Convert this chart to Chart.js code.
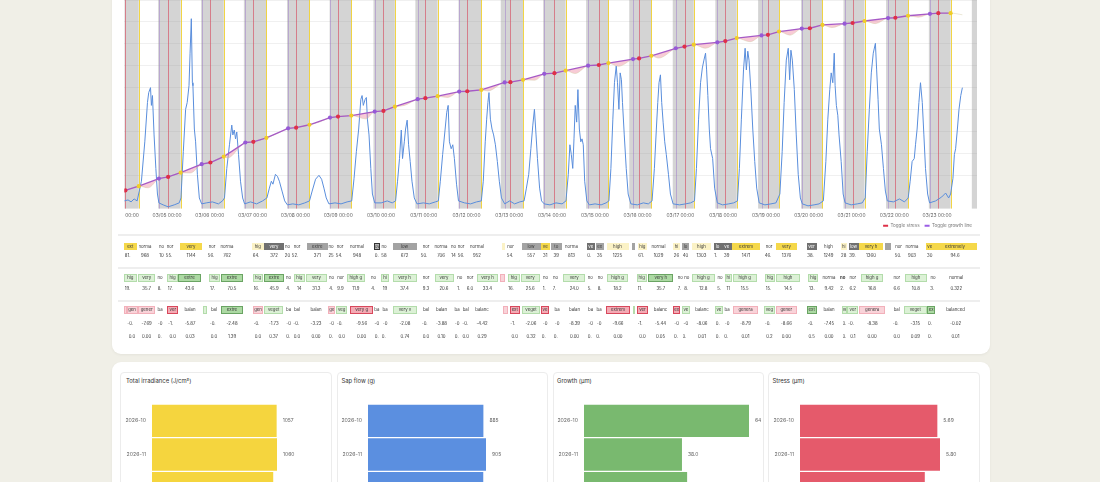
<!DOCTYPE html>
<html>
<head>
<meta charset="utf-8">
<script src="https://cdn.jsdelivr.net/npm/chart.js@4.4.1/dist/chart.umd.min.js"></script>
<style>
html, body { margin: 0; padding: 0; width: 1100px; height: 482px; overflow: hidden; background: #f0efe7; font-family: Inter, "Noto Sans", sans-serif; }
.card { position: absolute; left: 112px; width: 878px; background: #fff; border-radius: 9px; box-shadow: 0 1px 3px rgba(0,0,0,0.05); }
#card1 { top: -40px; height: 394px; }
#card2 { top: 362px; height: 200px; }
#mainWrap { position: absolute; left: 124px; top: -4px; width: 866px; height: 242px; overflow: hidden; }
#main { position: absolute; left: -20px; top: 0; }
.sep { position: absolute; left: 118px; width: 862px; height: 2px; background: #eeeeee; }
#tables { position: absolute; left: 0; top: 0; width: 1100px; height: 360px; will-change: transform; }
.cell { position: absolute; font-size: 4.3px; text-align: center; overflow: hidden; white-space: nowrap; color: #3a3a3a; box-sizing: border-box; }
.num { position: absolute; font-size: 4.3px; height: 6px; line-height: 6px; white-space: nowrap; overflow: hidden; color: #333; }
.sY { background: #f5d84a; }
.sy { background: #fbf2c6; }
.sD { background: #707070; color: #fff; }
.sG { background: #a3a3a3; }
.sO { background: #b5b5b5; border: 1px solid #333; }
.sg { background: #dcf1d6; border: 1px solid #b3dcab; }
.sM { background: #acd9a3; border: 1px solid #6aa463; }
.sp { background: #f9d3d9; border: 1px solid #f2b0ba; }
.sP { background: #f4aab4; border: 1px solid #d8485c; }
.sB { font-weight: bold; }
.panel { position: absolute; top: 372px; height: 150px; border: 1px solid #ececec; border-radius: 4px; box-sizing: border-box; }
.ptitle { position: absolute; top: 376.5px; font-size: 5.9px; color: #333; }
canvas.bar { position: absolute; top: 395px; }
</style>
</head>
<body>
<div class="card" id="card1"></div>
<div class="card" id="card2"></div>
<div id="mainWrap"><canvas id="main" width="886" height="242"></canvas></div>
<div class="sep" style="top:233.5px"></div>
<div class="sep" style="top:266.5px"></div>
<div class="sep" style="top:299.5px"></div>
<div id="tables"></div>

<div class="panel" style="left:120px;width:212px"></div>
<div class="panel" style="left:336.5px;width:211px"></div>
<div class="panel" style="left:552.5px;width:211px"></div>
<div class="panel" style="left:768px;width:212px"></div>
<div class="ptitle" style="left:126px">Total irradiance (J/cm²)</div>
<div class="ptitle" style="left:341.5px">Sap flow (g)</div>
<div class="ptitle" style="left:557px">Growth (µm)</div>
<div class="ptitle" style="left:772.5px">Stress (µm)</div>
<canvas class="bar" id="barIrr" width="209" height="119" style="left:122px"></canvas>
<canvas class="bar" id="barSap" width="209" height="119" style="left:338px"></canvas>
<canvas class="bar" id="barGrowth" width="209" height="119" style="left:554px"></canvas>
<canvas class="bar" id="barStress" width="210" height="119" style="left:770px"></canvas>

<script>
// hours since 03/04 00:00
const nightStart = [0, 19.0, 43.1, 67.1, 91.3, 115.2, 139.8, 163.3, 187.5, 211.2, 235.0, 259.1, 283.3, 307.7, 331.6, 355.6, 379.7, 403.5, 427.4, 451.4, 475.5];
const nightEnd = [8.1, 31.6, 55.8, 79.7, 103.9, 127.4, 151.8, 175.8, 200.3, 223.7, 247.6, 271.6, 295.7, 319.5, 343.6, 367.3, 391.7, 415.3, 439.7, 463.6, 478.4];

// growth line points (R = max, Y = morning, P = evening)
const growthHours = [0.6, 8.1, 19.4, 24.6, 31.6, 43.4, 48.3, 55.8, 67.9, 72.4, 79.7, 91.9, 96.4, 103.9, 115.4, 119.9, 127.4,
  140.5, 145.4, 151.8, 164.6, 168.9, 175.8, 187.9, 192.4, 200.3, 213.4, 216.6, 223.7, 235.6, 241.3, 247.6, 260.2, 266.2, 271.6,
  285.4, 288.8, 295.7, 309.4, 314.3, 319.5, 332.7, 337.2, 343.6, 357.5, 361.1, 367.3, 380.1, 384.6, 391.7, 404.1, 408.6, 415.3,
  428.5, 432.6, 439.7, 452.0, 456.7, 463.6];
const growthValues = [6.0, 9.9, 16.8, 18.3, 22.2, 30.0, 31.5, 36.9, 49.8, 50.4, 54.0, 62.7, 63.3, 66.0, 72.6, 73.5, 74.4,
  78.0, 78.6, 82.5, 89.4, 90.3, 92.1, 96.3, 96.6, 97.8, 104.7, 104.9, 107.1, 112.5, 113.1, 115.5, 120.0, 120.6, 122.4,
  126.0, 126.6, 129.0, 135.9, 137.4, 139.2, 141.3, 142.5, 145.2, 147.6, 148.2, 151.2, 153.9, 154.2, 157.2, 158.4, 159.0, 160.8,
  163.5, 163.8, 165.6, 167.4, 168.0, 168.0];
const growthKinds = ('RY' + 'PRYPRYPRYPRYPRY' + 'PRYPRYPRYPRYPRY' + 'PRYPRYPRYPRYPRY' + 'PRYPRYPRYPRY').split('');

// daytime shrinkage of the raw dendrometer curve
const dipHours = [13.4, 36.9, 57.9, 85.5, 109.7, 135.5, 157.2, 181.4, 204.0, 230.3, 252.9, 277.3, 299.8, 326.1, 351.1, 373.5, 397.0, 421.3, 445.5, 470.2];
const dipValues = [8.4, 21.9, 35.6, 57.8, 68.6, 71.4, 83.7, 90.9, 96.9, 106.7, 112.8, 119.4, 126.9, 135.9, 141.9, 147.9, 154.8, 158.4, 164.3, 166.5];

// sap flow
const sapHours = [
  0, 2.1, 3.8, 5.5, 7.2,
  9.6, 11.5, 13.0, 13.7, 14.7, 15.2, 15.8, 16.7, 17.7, 18.6, 19.4, 21.8, 24.6, 28.0, 30.8,
  31.8, 33.1, 34.4, 35.3, 36.3, 36.9, 37.6, 38.2, 38.5, 39.3, 40.0, 41.0, 42.1, 43.4, 46.0, 49.4, 52.8, 55.1,
  56.2, 57.5, 59.0, 60.3, 60.9, 61.7, 62.4, 63.1, 64.1, 65.2, 66.4, 67.5, 70.8, 74.2, 77.6,
  80.0, 81.4, 82.5, 83.4, 84.8, 85.9, 87.0, 88.5, 90.0, 91.5, 94.5, 97.9, 101.3,
  103.9, 105.4, 107.3, 109.2, 110.7, 112.0, 113.3, 114.8, 118.2, 121.6, 125.0,
  127.6, 128.9, 130.2, 131.5, 132.7, 133.4, 134.1, 135.1, 135.8, 136.4, 137.3, 138.3, 139.2, 140.5, 144.1, 147.5, 150.3,
  152.2, 153.3, 154.4, 155.4, 156.1, 157.1, 157.8, 158.7, 159.5, 160.4, 161.4, 162.7, 164.2, 167.8, 171.1, 174.5,
  176.2, 177.3, 178.6, 180.0, 180.9, 181.7, 182.4, 183.4, 184.3, 185.2, 186.4, 187.5, 190.9, 194.3, 197.6,
  200.3, 201.4, 202.5, 203.3, 204.0, 204.6, 205.4, 206.3, 207.2, 208.2, 209.3, 210.4, 211.6, 213.4, 216.2, 219.0, 221.9,
  224.3, 225.6, 226.9, 228.1, 229.2, 230.1, 231.0, 231.8, 233.0, 234.1, 235.6, 238.8, 242.2, 245.6,
  247.8, 249.1, 250.0, 250.8, 251.6, 252.3, 253.0, 253.8, 254.5, 255.3, 256.1, 256.8, 257.5, 258.3, 259.5, 260.9, 264.1, 267.5, 270.3,
  271.9, 273.0, 274.1, 275.0, 276.0, 276.7, 277.5, 278.2, 278.9, 279.5, 280.5, 281.6, 282.7, 284.2, 287.8, 291.2, 294.0,
  296.1, 297.4, 298.5, 299.3, 300.0, 300.8, 301.5, 302.3, 303.2, 304.1, 305.3, 306.4, 307.9, 311.5, 314.9, 317.7,
  319.9, 321.0, 322.2, 323.3, 324.3, 325.2, 326.1, 326.7, 327.4, 328.2, 328.9, 330.1, 331.2, 332.7, 335.7, 339.1, 341.9,
  344.0, 345.1, 346.2, 347.4, 348.3, 349.0, 349.8, 350.5, 351.5, 352.6, 353.7, 354.8, 356.2, 359.4, 362.8, 365.6,
  367.8, 369.1, 370.2, 371.4, 372.5, 373.3, 374.0, 374.8, 375.9, 377.0, 378.1, 379.3, 380.4, 383.6, 387.0, 389.8,
  392.2, 393.6, 394.7, 395.8, 396.6, 397.5, 398.3, 398.8, 399.5, 400.3, 401.0, 402.2, 403.3, 404.4, 407.8, 411.2, 414.0,
  415.7, 416.8, 418.0, 419.1, 420.2, 421.4, 422.1, 422.9, 423.6, 424.8, 425.9, 427.0, 428.1, 431.5, 434.9, 437.7,
  439.8, 440.9, 442.0, 443.2, 443.9, 444.8, 445.8, 446.7, 447.7, 448.6, 449.5, 450.7, 451.8, 455.2, 458.6, 460.8, 462.5,
  463.6, 464.9, 465.7, 466.4, 467.4, 468.3, 469.3, 470.2];
const sapValues = [
  8, 9, 7, 10, 8,
  28, 68, 108, 118, 123, 105, 115, 75, 41, 15, 6, 4, 2, 4, 6,
  11, 58, 101, 108, 125, 158, 193, 128, 125, 81, 68, 35, 11, 5, 6, 7, 5, 8,
  11, 41, 65, 85, 75, 80, 71, 78, 55, 28, 11, 5, 7, 5, 8,
  11, 21, 28, 25, 35, 33, 28, 18, 8, 4, 5, 4, 6,
  8, 18, 30, 34, 30, 21, 11, 5, 6, 5, 7,
  8, 31, 58, 81, 111, 115, 105, 111, 113, 91, 75, 41, 15, 6, 6, 8, 6,
  8, 28, 51, 80, 51, 68, 81, 90, 65, 48, 28, 11, 5, 6, 5, 7,
  8, 28, 55, 81, 98, 105, 68, 61, 65, 51, 25, 8, 6, 5, 7,
  8, 28, 68, 91, 108, 118, 91, 81, 75, 65, 48, 28, 11, 5, 8, 5, 7,
  8, 21, 35, 61, 85, 101, 75, 51, 21, 8, 5, 4, 6, 5,
  8, 35, 65, 55, 41, 71, 105, 88, 121, 81, 68, 71, 65, 28, 8, 4, 5, 4, 6,
  8, 41, 91, 128, 145, 128, 101, 138, 131, 108, 75, 41, 15, 5, 4, 6, 5,
  8, 41, 81, 108, 128, 136, 108, 88, 68, 55, 35, 15, 5, 4, 5, 6,
  8, 41, 91, 128, 143, 151, 158, 141, 115, 81, 61, 51, 21, 6, 4, 5, 6,
  8, 41, 91, 141, 163, 141, 160, 151, 121, 81, 48, 21, 6, 4, 5, 6,
  15, 58, 108, 151, 163, 131, 161, 151, 121, 75, 35, 11, 5, 3, 4, 5,
  8, 48, 91, 121, 138, 128, 158, 125, 105, 95, 75, 48, 15, 6, 4, 5, 6,
  11, 58, 101, 138, 158, 168, 141, 111, 81, 65, 41, 18, 8, 7, 10, 7,
  11, 28, 48, 51, 65, 81, 108, 128, 108, 75, 41, 15, 6, 8, 12, 16, 11,
  15, 31, 55, 61, 81, 101, 115, 123];

// monthly totals
const months = ['2026-10', '2026-11', '2026-12'];
const irradianceText = ['1057', '1060', '1028'];
const sapFlowText = ['885', '905', '884'];
const growthText = ['64', '38.0', '40.0'];
const stressText = ['5.69', '5.80', '5.17'];

// summary tables: [left, width, label, style, value, value2]
const row1Cells = [
  [124,12.5,'ext','Y','81.'], [138.5,13,'norma','','968'], [158.5,6,'no','','10'], [165,10,'nor','','55.'], [180,22,'very','Y','1144'],
  [207,10,'nor','','56.'], [219,16,'norma','','762'], [252,11.5,'hig','y','64.'], [264,20,'very','D','372'], [284.5,6,'no','','20'],
  [291,12,'nor','','52.'], [306.5,21.5,'extre','G','371'], [328,6,'no','','25'], [335,10,'nor','','54.'], [348,18,'normal','','948'],
  [374,5.5,'ov','O','0.'], [380,8,'no','','58'], [392.5,24,'low','G','672'], [420,12,'nor','','50.'], [434,14,'norma','','706'],
  [450,7,'no','','14'], [457,8,'nor','','56.'], [468,18,'normal','','952'], [501.5,3.5,'','y',''], [506,9,'nor','','54.'],
  [521.5,19,'low','G','557'], [540.5,9.5,'ve','Y','31'], [551,10.5,'to','G','39'], [563,17,'norma','','813'], [586.5,8.5,'ve','D','0.'],
  [596,7.5,'ex','G','35'], [606.5,22,'high','y','1225'], [631.5,3.5,'','G',''], [637.5,9.5,'hig','y','61.'], [650,17,'normal','','1029'],
  [673,7,'hi','y','26'], [682,7,'lo','G','40'], [692,19,'high','y','1303'], [713.5,8,'lo','D','1.'], [722,9.5,'ve','D','39'],
  [732,28,'extrem','Y','1471'], [764,10,'nor','','46.'], [776,21,'very','Y','1376'], [806.5,10,'ver','D','38.'], [820,17,'high','','1249'],
  [840.5,6.5,'hi','y','28'], [848.5,10,'low','D','39.'], [859,24,'very h','Y','1360'], [885,6,'','G',''], [894,9,'nor','','50.'],
  [905,14,'norma','','903'], [926,7.5,'ve','Y','30'], [933.5,43,'extremely','Y','94.6']
];
const row2Cells = [
  [124,12.5,'hig','g','19.'], [138.3,16.7,'very','g','35.7'], [157,6,'no','','8.'], [167,11.3,'hig','g','17.'], [178.3,22.4,'extre','M','43.6'],
  [209.3,10.7,'hig','g','17.'], [220.7,22.6,'extre','M','70.5'], [252.7,10.6,'hig','g','16.'], [264,20,'extre','M','45.9'], [285.5,6,'no','','4.'],
  [293.5,11.5,'hig','g','14'], [306,20.7,'very','g','31.3'], [328.5,6,'no','','4.'], [336,9,'nor','','9.9'], [346.7,18.3,'high g','g','11.9'],
  [370.5,6,'no','','4.'], [381,8,'hi','g','19'], [392.5,24,'very h','g','37.4'], [421,10,'nor','','9.3'], [434.5,19,'very','g','20.6'],
  [456.5,6.5,'no','','1.'], [465,10,'nor','','6.0'], [476.7,21.6,'very h','g','33.4'], [499.5,5.5,'','p',''], [507.5,12.5,'hig','g','16.'],
  [520.5,19.5,'very','g','25.6'], [542,7,'no','','1.'], [552,7,'no','','7.'], [563.3,21.7,'very','g','24.0'], [587,6.5,'no','','5.'],
  [597,6.5,'no','','8.'], [606.7,21.6,'high g','g','18.2'], [636.7,10,'hig','g','11.'], [648.3,25,'very h','M','35.7'], [677,6.5,'no','','7.'],
  [683.5,6.5,'no','','8.'], [691.7,23.3,'high g','g','12.8'], [716.5,7,'no','','5.'], [725,6.7,'hi','g','11'], [732.7,24,'high g','g','15.5'],
  [765,10,'hig','g','15.'], [776,24,'high','g','14.5'], [808.3,10,'hig','g','13.'], [821,16,'norma','','9.42'], [839.5,6.5,'no','B','2.'],
  [847.5,10.5,'nor','','6.2'], [860.7,22.6,'high g','g','16.8'], [892,9.5,'nor','','6.6'], [905,21.7,'high','g','10.8'], [929.5,7,'no','','3.'],
  [936,40.5,'normal','','0.322']
];
const row3Cells = [
  [124,2.5,'','p','',''], [126.5,11,'gen','p','-0.','0.0'], [138.3,16.7,'gener','p','-7.69','0.00'], [157,6,'ba','','-0','0.'],
  [167.3,11,'ver','P','-1.','0.0'], [181,18,'balan','','-5.87','0.03'], [203.3,4,'','g','',''], [209,10,'bal','','-0.','0.0'],
  [220.7,22.6,'extre','M','-2.48','1.39'], [252.7,10.6,'gen','p','-0.','0.0'], [264,19.3,'veget','g','-1.73','0.37'], [285.5,6,'ba','','-0','0.'],
  [292.5,9,'bal','','-0.','0.0'], [307,18,'balan','','-3.23','0.00'], [328.3,6.7,'ge','p','-0','0.'], [336,11.3,'veg','g','-0.','0.0'],
  [350,23.3,'very g','P','-9.56','0.00'], [374,5.5,'ba','','-0','0.'], [381,8,'ba','','-0','0.'], [393.3,23.4,'very v','g','-2.08','0.74'],
  [421,10,'bal','','-0.','0.0'], [433,17,'balan','','-3.88','0.10'], [454,6,'ba','','-0','0.'], [461.5,8.5,'bal','','-0.','0.0'],
  [472,20,'balanc','','-4.42','0.29'], [503.3,5,'','p','',''], [509.5,10.5,'ext','P','-1.','0.0'], [522,18,'veget','g','-2.06','0.32'],
  [541,8,'ve','P','-0','0.'], [553,8,'ba','','-0','0.'], [566,17,'balan','','-8.39','0.00'], [587,7,'ba','','-0','0.'],
  [595.5,7,'ba','','-0','0.'], [606,24,'extrem','P','-9.66','0.00'], [632.7,2.8,'','g','',''], [636.7,11.6,'ver','P','-1.','0.0'],
  [652,17,'balanc','','-5.44','0.05'], [673.3,6.7,'ex','P','-0','0.'], [681.7,8.3,'ve','g','-0','0.'], [693,18,'balanc','','-8.06','0.01'],
  [715,7.7,'ve','g','0.','0.'], [723.5,7,'ba','','-0','0.'], [732.7,25.6,'genera','p','-8.79','0.01'], [764,11,'veg','g','-0.','0.2'],
  [776,20.7,'gener','p','-8.66','0.00'], [806.7,10,'ext','M','-0.','0.5'], [821,16,'balan','','-7.45','0.00'], [841.7,5.6,'ve','g','0.','0.'],
  [847.3,11,'ver','g','-0.','0.1'], [859.3,25.7,'genera','p','-8.38','0.00'], [892,9.5,'bal','','-0.','0.0'], [904,22.7,'veget','g','-3.15','0.09'],
  [927.3,7.7,'ex','M','0.','0.'], [938,35,'balanced','','-0.02','0.01']
];

function buildRow(cells, top, h, numTops) {
  const host = document.getElementById('tables');
  cells.forEach(c => {
    const d = document.createElement('div');
    d.className = 'cell' + (c[3] ? ' s' + c[3] : '');
    const bordered = c[3] && 'gMpPO'.includes(c[3]);
    d.style.cssText = 'left:' + c[0] + 'px;width:' + c[1] + 'px;top:' + top + 'px;height:' + h + 'px;line-height:' + (bordered ? h - 2 : h) + 'px';
    d.textContent = c[2];
    host.appendChild(d);
    numTops.forEach((t, k) => {
      const txt = c[4 + k];
      if (!txt) return;
      const n = document.createElement('div');
      n.className = 'num';
      const left = txt.endsWith('.');
      n.style.cssText = 'left:' + (c[0] + (left ? 0.8 : 0)) + 'px;width:' + c[1] + 'px;top:' + t + 'px;text-align:' + (left ? 'left' : 'center');
      n.textContent = txt;
      host.appendChild(n);
    });
  });
}
buildRow(row1Cells, 242.5, 7.5, [253]);
buildRow(row2Cells, 274, 8, [286]);
buildRow(row3Cells, 305.5, 8.5, [321, 334]);

Chart.defaults.font.family = 'Inter';

const kindColor = { R: 'rgb(222,48,72)', Y: 'rgb(240,205,40)', P: 'rgb(150,90,215)' };
const kindLine = { R: 'rgba(215,70,90,0.6)', Y: 'rgba(240,208,50,0.9)', P: 'rgba(150,110,200,0.45)' };

const growthPts = growthHours.map((h, i) => ({ x: h, y: growthValues[i] }));
const rawPts = growthPts.concat(dipHours.map((h, i) => ({ x: h, y: dipValues[i] }))).sort((a, b) => a.x - b.x);
const sapPts = sapHours.map((h, i) => ({ x: h, y: sapValues[i] }));

const nightPlugin = {
  id: 'nights',
  beforeDatasetsDraw(chart) {
    const { ctx, chartArea: a, scales: { x } } = chart;
    ctx.save();
    ctx.beginPath();
    ctx.rect(a.left, a.top, a.right - a.left, a.bottom - a.top);
    ctx.clip();
    ctx.fillStyle = 'rgba(128,128,128,0.34)';
    nightStart.forEach((s, i) => {
      const x0 = x.getPixelForValue(s);
      const x1 = x.getPixelForValue(nightEnd[i]);
      ctx.fillRect(x0, a.top, x1 - x0, a.bottom - a.top);
    });
    ctx.lineWidth = 1;
    growthHours.forEach((h, i) => {
      const px = Math.round(x.getPixelForValue(h)) + 0.5;
      ctx.strokeStyle = kindLine[growthKinds[i]];
      ctx.beginPath();
      ctx.moveTo(px, a.top);
      ctx.lineTo(px, a.bottom);
      ctx.stroke();
    });
    ctx.restore();
  }
};

new Chart(document.getElementById('main'), {
  type: 'line',
  data: {
    datasets: [
      {
        label: 'Toggle growth line',
        data: growthPts,
        yAxisID: 'y2',
        borderColor: '#a65ac6',
        borderWidth: 1.3,
        pointRadius: 2.1,
        pointBorderWidth: 0,
        pointBackgroundColor: growthKinds.map(k => kindColor[k]),
        order: 0
      },
      {
        label: 'Toggle stress',
        data: rawPts,
        yAxisID: 'y2',
        borderColor: 'rgba(205,195,150,0.55)',
        borderWidth: 0.7,
        pointRadius: 0,
        cubicInterpolationMode: 'monotone',
        fill: { target: 0, above: 'rgba(0,0,0,0)', below: 'rgba(240,140,165,0.45)' },
        order: 1
      },
      {
        label: 'Sap flow',
        data: sapPts,
        yAxisID: 'y',
        borderColor: '#5a8edc',
        borderWidth: 1,
        pointRadius: 0,
        order: 2
      }
    ]
  },
  options: {
    responsive: false,
    animation: false,
    events: [],
    layout: { padding: { left: 20.3, right: 13, top: 0, bottom: 0 } },
    scales: {
      x: {
        type: 'linear',
        min: 0,
        max: 478.4,
        grid: { display: false, drawTicks: false },
        border: { display: false },
        afterFit: a => { a.height = 9.6; },
        ticks: {
          stepSize: 24,
          autoSkip: false,
          maxRotation: 0,
          padding: 4,
          color: '#666',
          font: { size: 4.9 },
          callback: v => {
            if (v % 24 !== 0) return null;
            const d = 4 + v / 24;
            return '03/' + (d < 10 ? '0' + d : d) + ' 00:00';
          }
        }
      },
      y: { display: false, min: 0, max: 212 },
      y2: {
        position: 'left',
        min: -10.8,
        max: 180,
        border: { display: false },
        grid: { drawTicks: false, color: c => (c.tick && c.tick.value < 0 ? 'rgba(0,0,0,0)' : 'rgba(0,0,0,0.06)') },
        ticks: { display: false, stepSize: 20 }
      }
    },
    plugins: {
      tooltip: { enabled: false },
      legend: {
        position: 'bottom',
        align: 'end',
        labels: {
          boxWidth: 5,
          boxHeight: 2,
          padding: 5,
          color: '#777',
          font: { size: 4.6 },
          generateLabels: () => [
            { text: 'Toggle stress', fillStyle: 'rgb(222,48,72)', strokeStyle: 'rgb(222,48,72)', lineWidth: 0, datasetIndex: 1, fontColor: '#777' },
            { text: 'Toggle growth line', fillStyle: '#9b5de5', strokeStyle: '#9b5de5', lineWidth: 0, datasetIndex: 0, fontColor: '#777' }
          ]
        }
      }
    }
  },
  plugins: [nightPlugin]
});

const valueLabels = {
  id: 'valueLabels',
  afterDatasetsDraw(chart, args, opts) {
    const { ctx } = chart;
    ctx.save();
    ctx.font = '5px Inter';
    ctx.fillStyle = '#666';
    ctx.textBaseline = 'middle';
    chart.getDatasetMeta(0).data.forEach((bar, i) => ctx.fillText(opts.texts[i], bar.x + 6, bar.y));
    ctx.restore();
  }
};

function barChart(id, texts, color, padRight) {
  const values = texts.map(Number);
  new Chart(document.getElementById(id), {
    type: 'bar',
    data: { labels: months, datasets: [{ data: values, backgroundColor: color, barPercentage: 0.965, categoryPercentage: 1 }] },
    options: {
      indexAxis: 'y',
      responsive: false,
      animation: false,
      events: [],
      layout: { padding: { left: 0, right: padRight, top: 0, bottom: 0 } },
      scales: {
        x: { display: false, min: 0, max: Math.max(...values) },
        y: {
          grid: { display: false, drawTicks: false },
          border: { display: false },
          ticks: { padding: 6, color: '#666', font: { size: 5.2 } },
          afterFit: a => { a.width = 30; }
        }
      },
      plugins: { legend: { display: false }, tooltip: { enabled: false }, valueLabels: { texts } }
    },
    plugins: [valueLabels]
  });
}
barChart('barIrr', irradianceText, '#f5d53e', 54);
barChart('barSap', sapFlowText, '#5b8fe0', 61);
barChart('barGrowth', growthText, '#79b96f', 14);
barChart('barStress', stressText, '#e55a6b', 40);
</script>
</body>
</html>
